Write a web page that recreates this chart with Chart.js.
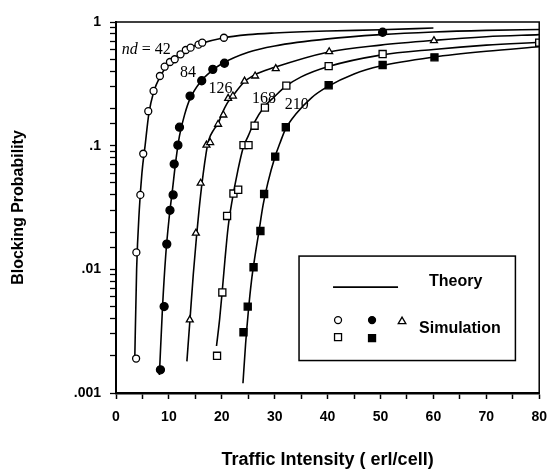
<!DOCTYPE html>
<html>
<head>
<meta charset="utf-8">
<script src="https://cdn.jsdelivr.net/npm/chart.js@4.4.1/dist/chart.umd.min.js"></script>
<style>
  html, body { margin: 0; padding: 0; background: #fff; }
</style>
</head>
<body>
<canvas id="blockingChart" width="557" height="473"></canvas>
<script>
// Simulation points, one pair of arrays per nd value
const sim42X = [3.8, 3.85, 4.6, 5.15, 6.1, 7.1, 8.3, 9.2, 10.2, 11.1, 12.2, 13.2, 14.1, 15.6, 16.3, 20.4];
const sim42Y = [0.0019, 0.0137, 0.040, 0.086, 0.19, 0.277, 0.366, 0.435, 0.475, 0.50, 0.548, 0.594, 0.62, 0.656, 0.68, 0.746];
const sim84X = [8.4, 9.1, 9.6, 10.2, 10.8, 11.0, 11.7, 12.0, 14.0, 16.2, 18.3, 20.5, 50.4];
const sim84Y = [0.00154, 0.005, 0.016, 0.030, 0.040, 0.071, 0.101, 0.141, 0.252, 0.335, 0.414, 0.464, 0.826];
const sim126X = [13.95, 15.1, 16.0, 17.1, 17.8, 19.3, 20.3, 21.2, 22.1, 24.3, 26.3, 30.2, 40.3, 60.1];
const sim126Y = [0.0039, 0.0196, 0.0497, 0.101, 0.106, 0.149, 0.177, 0.241, 0.252, 0.333, 0.366, 0.42, 0.575, 0.706];
const sim168X = [19.1, 20.1, 21.0, 22.2, 23.1, 24.1, 25.05, 26.2, 28.15, 32.2, 40.2, 50.4, 80];
const sim168Y = [0.002, 0.0065, 0.027, 0.041, 0.044, 0.101, 0.101, 0.145, 0.203, 0.306, 0.44, 0.551, 0.68];
const sim210X = [24.1, 24.9, 26.0, 27.3, 28.0, 30.1, 32.1, 40.2, 50.4, 60.2];
const sim210Y = [0.0031, 0.005, 0.0104, 0.0204, 0.0407, 0.0815, 0.141, 0.308, 0.449, 0.518];

// Theory curves
const th42X = [3.55, 3.9, 4.4, 4.9, 5.5, 6.2, 7.1, 8.3, 10, 12, 14, 16, 20, 25, 30, 40, 50, 60];
const th42Y = [0.0019, 0.01, 0.03, 0.06, 0.1, 0.18, 0.27, 0.36, 0.46, 0.55, 0.62, 0.67, 0.74, 0.79, 0.815, 0.845, 0.865, 0.895];
const th84X = [8.2, 8.8, 9.4, 10, 10.7, 11.3, 12, 13, 14, 16, 18, 20, 25, 30, 40, 50, 60, 70, 80];
const th84Y = [0.0014, 0.005, 0.013, 0.025, 0.045, 0.075, 0.12, 0.18, 0.24, 0.33, 0.40, 0.46, 0.57, 0.64, 0.73, 0.79, 0.83, 0.855, 0.87];
const th126X = [13.4, 14, 14.6, 15.2, 16, 17, 17.5, 18.5, 19.3, 20, 21, 22, 24, 26, 30, 40, 50, 60, 70, 80];
const th126Y = [0.0018, 0.004, 0.009, 0.018, 0.04, 0.085, 0.11, 0.135, 0.15, 0.18, 0.22, 0.25, 0.32, 0.37, 0.43, 0.57, 0.65, 0.71, 0.76, 0.79];
const th168X = [19.0, 19.6, 20.1, 20.6, 21.2, 22, 23, 24, 25, 26, 28, 30, 32, 35, 40, 50, 60, 70, 80];
const th168Y = [0.0024, 0.004, 0.0068, 0.012, 0.022, 0.037, 0.062, 0.095, 0.12, 0.15, 0.205, 0.25, 0.30, 0.36, 0.435, 0.54, 0.60, 0.65, 0.685];
const th210X = [24.0, 24.5, 25, 25.6, 26.3, 27, 27.8, 28.7, 30, 31, 32, 34, 37, 40, 45, 50, 60, 70, 80];
const th210Y = [0.0012, 0.0025, 0.0045, 0.008, 0.013, 0.02, 0.033, 0.05, 0.08, 0.105, 0.135, 0.18, 0.245, 0.30, 0.38, 0.44, 0.52, 0.58, 0.63];

// Axis tick labels
const xTickLabels = ['0', '10', '20', '30', '40', '50', '60', '70', '80'];
const yTickLabels = { '-3': '.001', '-2': '.01', '-1': '.1', '0': '1' };

// Curve labels
const curveNames = ['84', '126', '168', '210'];

function toPoints(xs, ys) {
  return xs.map((v, i) => ({ x: v, y: ys[i] }));
}

function theory(xs, ys) {
  return {
    data: toPoints(xs, ys),
    showLine: true,
    pointRadius: 0,
    borderColor: '#000',
    borderWidth: 1.6,
    cubicInterpolationMode: 'monotone',
    order: 1
  };
}

function simulation(xs, ys, style, filled, radius) {
  return {
    data: toPoints(xs, ys),
    showLine: false,
    pointStyle: style,
    pointRadius: radius,
    pointHoverRadius: radius,
    backgroundColor: filled ? '#000' : '#fff',
    borderColor: '#000',
    borderWidth: 1.3,
    order: 0
  };
}

const FONT = '"Liberation Sans", Arial, sans-serif';
const SERIF = '"Liberation Serif", "Times New Roman", serif';

// small marker helper for the legend box
function marker(ctx, style, filled, cx, cy) {
  ctx.beginPath();
  if (style === 'circle') {
    ctx.arc(cx, cy, 3.5, 0, Math.PI * 2);
  } else if (style === 'triangle') {
    ctx.moveTo(cx, cy - 4);
    ctx.lineTo(cx + 3.8, cy + 2.5);
    ctx.lineTo(cx - 3.8, cy + 2.5);
    ctx.closePath();
  } else {
    ctx.rect(cx - 3.5, cy - 3.5, 7, 7);
  }
  ctx.fillStyle = filled ? '#000' : '#fff';
  ctx.fill();
  ctx.stroke();
}

const notes = {
  id: 'notes',
  afterDatasetsDraw(chart) {
    const { ctx, chartArea: a, scales: { x, y } } = chart;
    ctx.save();
    ctx.strokeStyle = '#000';
    ctx.fillStyle = '#000';

    // top and right edges of the frame
    ctx.lineWidth = 1.5;
    ctx.beginPath();
    ctx.moveTo(a.left, a.top);
    ctx.lineTo(a.right, a.top);
    ctx.lineTo(a.right, a.bottom);
    ctx.stroke();

    // curve labels
    ctx.textBaseline = 'middle';
    ctx.textAlign = 'left';
    let px = x.getPixelForValue(1.1);
    const py = y.getPixelForValue(0.594);
    ctx.font = 'italic 16px ' + SERIF;
    ctx.fillText('nd', px, py);
    px += ctx.measureText('nd').width;
    ctx.font = '16px ' + SERIF;
    ctx.fillText(' = 42', px, py);

    const labelAt = [[12.1, 0.385], [17.5, 0.287], [25.7, 0.239], [31.9, 0.213]];
    curveNames.forEach((t, i) => {
      ctx.fillText(t, x.getPixelForValue(labelAt[i][0]), y.getPixelForValue(labelAt[i][1]));
    });

    // legend box
    const bl = x.getPixelForValue(34.6), br = x.getPixelForValue(75.5);
    const bt = y.getPixelForValue(0.0128), bb = y.getPixelForValue(0.00183);
    ctx.fillStyle = '#fff';
    ctx.fillRect(bl, bt, br - bl, bb - bt);
    ctx.lineWidth = 1.5;
    ctx.strokeRect(bl, bt, br - bl, bb - bt);

    ctx.lineWidth = 1.6;
    ctx.beginPath();
    ctx.moveTo(bl + 34, bt + 31);
    ctx.lineTo(bl + 99, bt + 31);
    ctx.stroke();

    ctx.fillStyle = '#000';
    ctx.font = 'bold 16px ' + FONT;
    ctx.fillText('Theory', bl + 130, bt + 26);
    ctx.fillText('Simulation', bl + 120, bt + 73);

    ctx.lineWidth = 1.3;
    marker(ctx, 'circle', false, bl + 39, bt + 64);
    marker(ctx, 'circle', true, bl + 73, bt + 64);
    marker(ctx, 'triangle', false, bl + 103, bt + 65);
    marker(ctx, 'rect', false, bl + 39, bt + 81);
    marker(ctx, 'rect', true, bl + 73, bt + 82);

    ctx.restore();
  }
};

new Chart(document.getElementById('blockingChart'), {
  type: 'scatter',
  data: {
    datasets: [
      simulation(sim42X, sim42Y, 'circle', false, 3.5),
      simulation(sim84X, sim84Y, 'circle', true, 4),
      simulation(sim126X, sim126Y, 'triangle', false, 4),
      simulation(sim168X, sim168Y, 'rect', false, 5),
      simulation(sim210X, sim210Y, 'rect', true, 5),
      theory(th42X, th42Y),
      theory(th84X, th84Y),
      theory(th126X, th126Y),
      theory(th168X, th168Y),
      theory(th210X, th210Y)
    ]
  },
  options: {
    responsive: false,
    animation: false,
    layout: { padding: { top: 22, right: 11, left: 0, bottom: 0 } },
    plugins: { legend: { display: false }, tooltip: { enabled: false } },
    scales: {
      x: {
        type: 'linear',
        min: 0,
        max: 80,
        afterFit(s) { s.height = 80; },
        ticks: {
          stepSize: 5,
          autoSkip: false,
          maxRotation: 0,
          padding: 10,
          color: '#000',
          font: { family: FONT, size: 14, weight: 'bold' },
          callback: v => (v % 10 === 0 ? xTickLabels[v / 10] : '')
        },
        grid: { drawOnChartArea: false, tickLength: 6, tickColor: '#000', tickWidth: 1.5 },
        border: { color: '#000', width: 2.5 },
        title: {
          display: true,
          text: 'Traffic Intensity ( erl/cell)',
          color: '#000',
          font: { family: FONT, size: 18, weight: 'bold' },
          padding: { bottom: 2 }
        }
      },
      y: {
        type: 'logarithmic',
        min: 0.001,
        max: 1,
        afterFit(s) { s.width = 116; },
        ticks: {
          autoSkip: false,
          padding: 9,
          color: '#000',
          font: { family: FONT, size: 14, weight: 'bold' },
          callback: v => {
            const e = Math.log10(v);
            return Math.abs(e - Math.round(e)) < 1e-6 ? yTickLabels[String(Math.round(e))] : '';
          }
        },
        grid: { drawOnChartArea: false, tickLength: 6, tickColor: '#000', tickWidth: 1.3 },
        border: { color: '#000', width: 2 },
        title: {
          display: true,
          text: 'Blocking Probability',
          color: '#000',
          font: { family: FONT, size: 16, weight: 'bold' },
          padding: { top: 9 }
        }
      }
    }
  },
  plugins: [notes]
});
</script>
</body>
</html>
